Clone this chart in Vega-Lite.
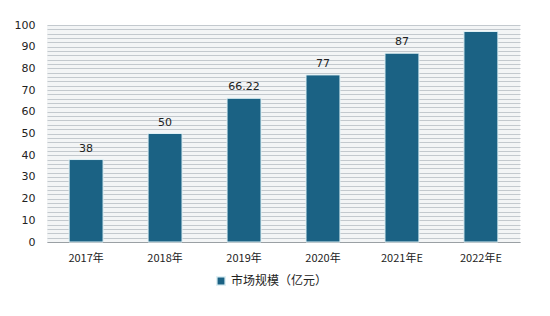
{
  "$schema": "https://vega.github.io/schema/vega-lite/v6.json",
  "width": 550,
  "height": 316,
  "autosize": {"type": "fit", "contains": "padding"},
  "padding": {"left": 14, "top": 17, "right": 30, "bottom": 53},
  "background": "white",
  "data": {"values": [
    {"year": "2017年", "value": 38, "label": "38"},
    {"year": "2018年", "value": 50, "label": "50"},
    {"year": "2019年", "value": 66.22, "label": "66.22"},
    {"year": "2020年", "value": 77, "label": "77"},
    {"year": "2021年E", "value": 87, "label": "87"},
    {"year": "2022年E", "value": 97, "label": ""}
  ]},
  "encoding": {
    "x": {"field": "year", "type": "nominal", "sort": null,
      "scale": {"paddingInner": 0.57, "paddingOuter": 0.28},
      "axis": {"title": null, "labelAngle": 0, "ticks": false, "domainColor": "#9aa0a4", "labelPadding": 10, "labelFontSize": 11, "labelColor": "#222", "labelFont": "Noto Sans CJK SC", "grid": false}},
    "y": {"field": "value", "type": "quantitative",
      "scale": {"domain": [0, 100], "nice": false},
      "axis": {"title": null, "values": [0,2,4,6,8,10,12,14,16,18,20,22,24,26,28,30,32,34,36,38,40,42,44,46,48,50,52,54,56,58,60,62,64,66,68,70,72,74,76,78,80,82,84,86,88,90,92,94,96,98,100],
        "labelExpr": "datum.value % 10 == 0 ? datum.label : ''",
        "ticks": false, "domain": false, "grid": true, "gridColor": "#c3c9ce", "gridWidth": 1,
        "labelFontSize": 11, "labelColor": "#222", "labelPadding": 12, "labelFont": "DejaVu Sans"}}
  },
  "layer": [
    {"mark": {"type": "bar", "stroke": "#dff0f5", "strokeWidth": 1},
      "encoding": {"color": {"datum": "市场规模（亿元）", "type": "nominal",
        "scale": {"range": ["#1b6284"]},
        "legend": {"title": null, "orient": "none", "legendX": 168, "legendY": 250, "direction": "horizontal", "symbolType": "square", "symbolSize": 70, "labelFontSize": 12, "labelFont": "Noto Sans CJK SC", "labelColor": "#222"}}}},
    {"mark": {"type": "text", "dy": -11, "fontSize": 11, "font": "DejaVu Sans", "color": "#222"},
      "encoding": {"text": {"field": "label"}}}
  ],
  "config": {"view": {"fill": "#f3f5f6", "stroke": null}}
}
